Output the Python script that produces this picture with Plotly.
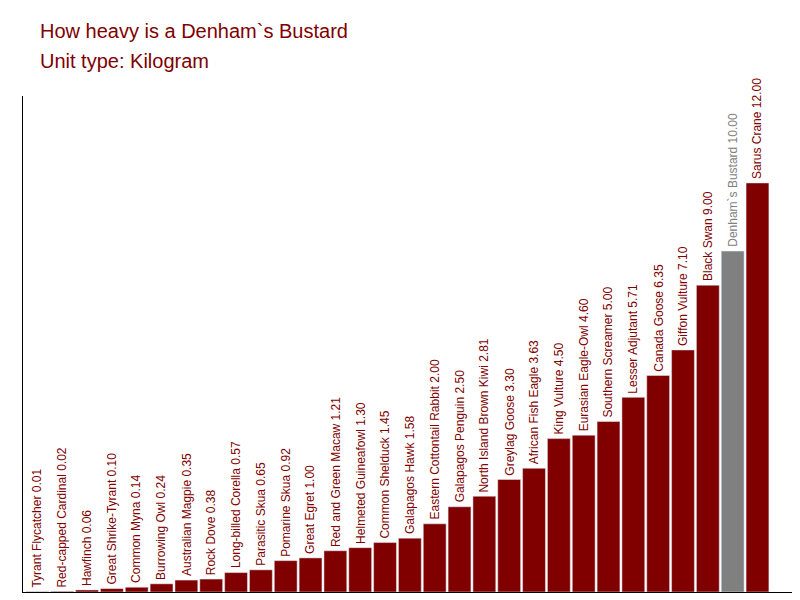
import plotly.graph_objects as go

names = ["Tyrant Flycatcher", "Red-capped Cardinal", "Hawfinch", "Great Shrike-Tyrant",
         "Common Myna", "Burrowing Owl", "Australian Magpie", "Rock Dove",
         "Long-billed Corella", "Parasitic Skua", "Pomarine Skua", "Great Egret",
         "Red and Green Macaw", "Helmeted Guineafowl", "Common Shelduck", "Galapagos Hawk",
         "Eastern Cottontail Rabbit", "Galapagos Penguin", "North Island Brown Kiwi",
         "Greylag Goose", "African Fish Eagle", "King Vulture", "Eurasian Eagle-Owl",
         "Southern Screamer", "Lesser Adjutant", "Canada Goose", "Giffon Vulture",
         "Black Swan", "Denham`s Bustard", "Sarus Crane"]
weights = [0.01, 0.02, 0.06, 0.10, 0.14, 0.24, 0.35, 0.38, 0.57, 0.65, 0.92, 1.00,
           1.21, 1.30, 1.45, 1.58, 2.00, 2.50, 2.81, 3.30, 3.63, 4.50, 4.60, 5.00,
           5.71, 6.35, 7.10, 9.00, 10.00, 12.00]
highlight = "Denham`s Bustard"

red = "#800000"
grey = "#808080"
font = "Arial, Liberation Sans"
colors = [grey if n == highlight else red for n in names]

fig = go.Figure(go.Bar(
    x=list(range(len(names))), y=weights, marker_color=colors, hoverinfo="skip",
))

# rotated labels sitting on top of each bar
for i, (n, w, c) in enumerate(zip(names, weights, colors)):
    fig.add_annotation(x=i, y=w, text=f"{n} {w:.2f}", textangle=-90,
                       xanchor="center", yanchor="bottom", yshift=2, showarrow=False,
                       font=dict(family=font, size=12, color=c))

fig.add_annotation(text="How heavy is a Denham`s Bustard", xref="paper", yref="paper",
                   x=0, y=1, xshift=15, yshift=78, xanchor="left", yanchor="top",
                   showarrow=False, font=dict(family=font, size=20, color=red))
fig.add_annotation(text="Unit type: Kilogram", xref="paper", yref="paper",
                   x=0, y=1, xshift=15, yshift=48, xanchor="left", yanchor="top",
                   showarrow=False, font=dict(family=font, size=20, color=red))

fig.update_layout(
    width=800, height=600, plot_bgcolor="white", paper_bgcolor="white",
    margin=dict(l=15, r=15, t=88, b=16, autoexpand=False), bargap=0.08, showlegend=False,
    xaxis=dict(range=[-0.58, 30.43], showticklabels=False, showgrid=False,
               zeroline=False, showline=True, linecolor="black", linewidth=1),
    yaxis=dict(range=[0, 14.55], showticklabels=False, showgrid=False,
               zeroline=False, showline=True, linecolor="black", linewidth=1),
)
fig.write_html("out.html")
